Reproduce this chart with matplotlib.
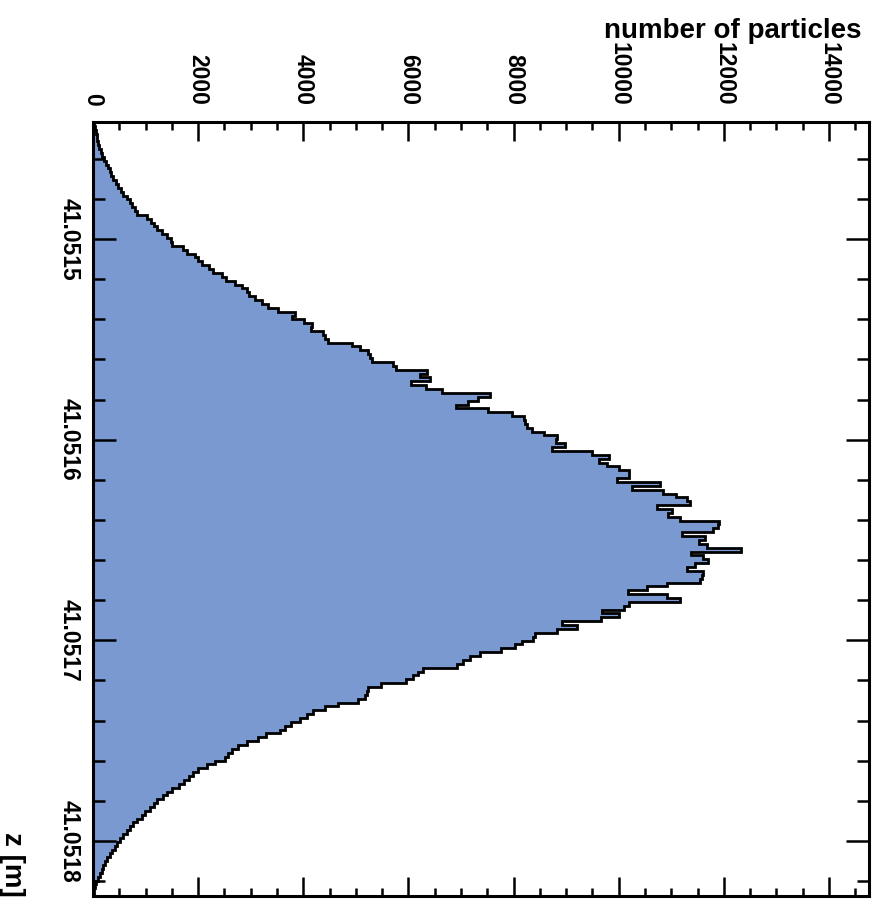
import numpy as np
import matplotlib.pyplot as plt

plt.rcParams['font.family'] = ['Liberation Sans', 'DejaVu Sans']
plt.rcParams['font.weight'] = 'bold'

# histogram range along z (m), 200 equal bins
z_min, z_max = 41.0514417, 41.0518274

# number of particles per bin, top (small z) to bottom (large z)
counts = [
    23, 42, 61, 70, 80, 99, 118, 146, 175, 204,
    251, 289, 327, 346, 384, 441, 479, 536, 574, 650,
    708, 746, 793, 831, 1031, 1097, 1164, 1221, 1316, 1411,
    1487, 1506, 1716, 1792, 1944, 1991, 2077, 2200, 2286, 2457,
    2534, 2705, 2838, 2933, 2971, 3085, 3218, 3332, 3523, 3846,
    3783, 4004, 4163, 4150, 4384, 4416, 4473, 4924, 5082, 5240,
    5272, 5305, 5704, 5757, 6351, 6223, 6413, 6052, 6337, 6642,
    7555, 7326, 7136, 6908, 7517, 7973, 8201, 8220, 8249, 8353,
    8582, 8829, 8800, 8981, 8734, 9493, 9817, 9627, 9779, 10007,
    10197, 10190, 9969, 10787, 10254, 10844, 11092, 11301, 11358, 10730,
    11016, 10939, 11168, 11910, 11890, 11796, 11206, 11644, 11530, 11682,
    12329, 11377, 11606, 11701, 11453, 11301, 11606, 11587, 11549, 10921,
    10540, 10179, 10921, 11168, 10197, 10102, 9683, 10007, 9664, 8922,
    9207, 8829, 8410, 8372, 8163, 8030, 7763, 7364, 7174, 7041,
    6927, 6280, 6185, 6090, 5957, 5481, 5234, 5215, 5177, 5044,
    4663, 4416, 4188, 4074, 3941, 3770, 3656, 3561, 3294, 3142,
    2933, 2762, 2648, 2572, 2515, 2324, 2172, 2001, 1906, 1830,
    1735, 1640, 1506, 1411, 1335, 1221, 1164, 1088, 993, 936,
    841, 765, 708, 650, 574, 517, 460, 422, 365, 327,
    270, 232, 194, 165, 127, 89, 61, 42, 23, 13,
]

count_ticks = [0, 2000, 4000, 6000, 8000, 10000, 12000, 14000]
z_ticks = [41.0515, 41.0516, 41.0517, 41.0518]
z_labels = ['41.0515', '41.0516', '41.0517', '41.0518']

edges = np.linspace(z_min, z_max, len(counts) + 1)

fig = plt.figure(figsize=(8.76, 9.0), dpi=100)
ax = fig.add_axes([93 / 876, 4 / 900, (869 - 93) / 876, (896 - 122) / 900])

# plot is drawn turned on its side: z runs downwards, counts to the right
ax.stairs(counts, edges, orientation='horizontal', fill=True,
          color='#7a99d0', lw=0)
ax.stairs(counts, edges, orientation='horizontal', color='black', lw=2.0)

ax.set_xlim(0, 14760)
ax.set_ylim(z_max, z_min)

ax.set_xticks(count_ticks, labels=[str(c) for c in count_ticks])
ax.set_xticks(np.arange(0, 14760, 500), minor=True)
ax.set_yticks(z_ticks, labels=z_labels)
z_minor = [41.05146 + 0.00002 * k for k in range(19)]
ax.set_yticks(z_minor, minor=True)

ax.tick_params(axis='x', which='both', direction='in', top=True, bottom=True,
               labeltop=True, labelbottom=False, labelrotation=-90,
               labelsize=16.5, pad=12, width=1.8)
ax.tick_params(axis='x', which='major', length=13.5)
ax.tick_params(axis='x', which='minor', length=5.5)
ax.tick_params(axis='y', which='both', direction='in', left=True, right=True,
               labelleft=True, labelright=False, labelrotation=-90,
               labelsize=16.5, pad=9, width=1.8)
ax.tick_params(axis='y', which='major', length=16.5)
ax.tick_params(axis='y', which='minor', length=8.5)
for lbl in ax.get_yticklabels():
    lbl.set_va('center')

for sp in ax.spines.values():
    sp.set_linewidth(2.2)

fig.text(862 / 876, 1 - 38 / 900, 'number of particles', ha='right',
         va='baseline', fontsize=20)
fig.text(12 / 876, 1 - 864 / 900, 'z [m]', rotation=-90, ha='center',
         va='center', fontsize=20)

fig.savefig('out.png', dpi=100)
